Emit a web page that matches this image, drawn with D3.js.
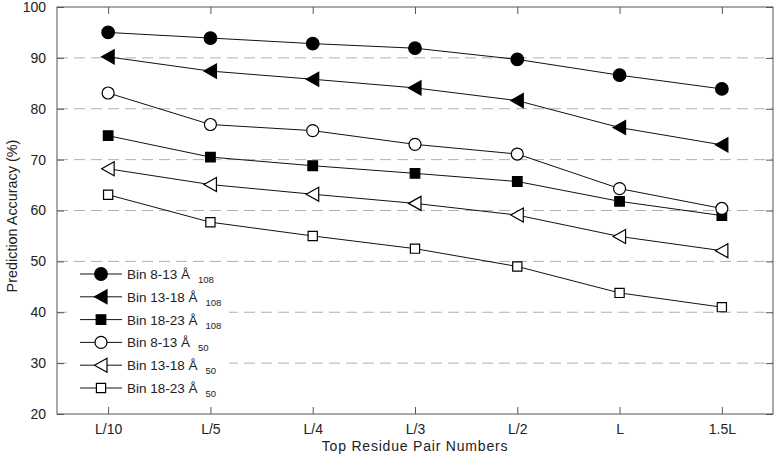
<!DOCTYPE html>
<html>
<head>
<meta charset="utf-8">
<script src="https://cdn.jsdelivr.net/npm/d3@7"></script>
<style>
  body { margin: 0; background: #fff; }
  text { font-family: "Liberation Sans", Arial, sans-serif; fill: #222; }
</style>
</head>
<body>
<div id="chart"></div>
<script>
const categories = ['L/10', 'L/5', 'L/4', 'L/3', 'L/2', 'L', '1.5L']
const yTicks = [20, 30, 40, 50, 60, 70, 80, 90, 100]
const gridValues = [30, 40, 50, 60, 70, 80, 90]

const seriesNames = ['Bin 8-13 Å', 'Bin 13-18 Å', 'Bin 18-23 Å', 'Bin 8-13 Å', 'Bin 13-18 Å', 'Bin 18-23 Å']
const seriesSubs = ['108', '108', '108', '50', '50', '50']
const seriesMarkers = ['circle', 'triangle', 'square', 'circle', 'triangle', 'square']
const seriesFilled = [true, true, true, false, false, false]

const bin8_108 = [95.0, 93.9, 92.8, 91.9, 89.7, 86.6, 83.9]
const bin13_108 = [90.2, 87.4, 85.8, 84.1, 81.6, 76.3, 72.9]
const bin18_108 = [74.7, 70.5, 68.8, 67.3, 65.7, 61.8, 59.0]
const bin8_50 = [83.1, 76.9, 75.7, 73.0, 71.1, 64.3, 60.4]
const bin13_50 = [68.2, 65.1, 63.2, 61.4, 59.1, 54.9, 52.1]
const bin18_50 = [63.1, 57.7, 55.0, 52.5, 49.0, 43.8, 41.0]
const seriesValues = [bin8_108, bin13_108, bin18_108, bin8_50, bin13_50, bin18_50]

const W = 777, H = 464
const margin = { left: 57, right: 4, top: 7, bottom: 50 }

const svg = d3.select('#chart').append('svg').attr('width', W).attr('height', H)

const x = d3.scalePoint().domain(categories).range([margin.left, W - margin.right]).padding(0.5)
const y = d3.scaleLinear().domain([20, 100]).range([H - margin.bottom, margin.top])

// markers drawn as custom paths
function markerPath(type, filled) {
  if (type === 'circle') {
    const r = filled ? 6.3 : 6
    return `M${r},0A${r},${r} 0 1,1 ${-r},0A${r},${r} 0 1,1 ${r},0Z`
  }
  if (type === 'square') {
    const s = filled ? 4.8 : 4.6
    return `M${-s},${-s}H${s}V${s}H${-s}Z`
  }
  // left-pointing triangle
  return 'M-6.5,0L6,-7L6,7Z'
}

// dashed grid
svg.append('g').selectAll('line').data(gridValues).enter().append('line')
  .attr('x1', margin.left).attr('x2', W - margin.right)
  .attr('y1', (d) => y(d)).attr('y2', (d) => y(d))
  .attr('stroke', '#b0b0b0').attr('stroke-width', 1).attr('stroke-dasharray', '11,6')

// legend background hides grid
svg.append('rect').attr('x', 67).attr('y', 262).attr('width', 162).attr('height', 138).attr('fill', '#fff')

// axes
svg.append('g').attr('transform', `translate(0,${H - margin.bottom})`)
  .call(d3.axisBottom(x).tickSize(-7).tickPadding(10).tickSizeOuter(0))
svg.append('g').attr('transform', `translate(0,${margin.top})`)
  .call(d3.axisTop(x).tickSize(-7).tickFormat('').tickSizeOuter(0))
svg.append('g').attr('transform', `translate(${margin.left},0)`)
  .call(d3.axisLeft(y).tickValues(yTicks).tickSize(-7).tickPadding(11).tickSizeOuter(0))
svg.append('g').attr('transform', `translate(${W - margin.right},0)`)
  .call(d3.axisRight(y).tickValues(yTicks).tickSize(-7).tickFormat('').tickSizeOuter(0))

svg.selectAll('.domain').remove()
svg.selectAll('.tick line').attr('stroke', '#555')
svg.selectAll('.tick text').attr('font-size', 14).attr('fill', '#222')

svg.append('rect')
  .attr('x', margin.left).attr('y', margin.top)
  .attr('width', W - margin.right - margin.left).attr('height', H - margin.bottom - margin.top)
  .attr('fill', 'none').attr('stroke', '#555').attr('stroke-width', 1)

// series
const line = d3.line().x((d, i) => x(categories[i])).y((d) => y(d))
seriesValues.forEach((vals, s) => {
  const g = svg.append('g')
  g.append('path').attr('d', line(vals)).attr('fill', 'none').attr('stroke', '#111').attr('stroke-width', 1)
  g.selectAll('path.m').data(vals).enter().append('path')
    .attr('class', 'm')
    .attr('transform', (d, i) => `translate(${x(categories[i])},${y(d)})`)
    .attr('d', markerPath(seriesMarkers[s], seriesFilled[s]))
    .attr('fill', seriesFilled[s] ? '#000' : '#fff')
    .attr('stroke', '#000').attr('stroke-width', 1.2)
})

// legend
const legend = svg.append('g')
seriesNames.forEach((name, s) => {
  const ly = 274 + s * 22.8
  const row = legend.append('g').attr('transform', `translate(0,${ly})`)
  row.append('line').attr('x1', 80).attr('x2', 122).attr('y1', 0).attr('y2', 0).attr('stroke', '#111')
  row.append('path').attr('transform', 'translate(101,0)')
    .attr('d', markerPath(seriesMarkers[s], seriesFilled[s]))
    .attr('fill', seriesFilled[s] ? '#000' : '#fff')
    .attr('stroke', '#000').attr('stroke-width', 1.2)
  const t = row.append('text').attr('x', 127).attr('y', 5).attr('font-size', 13.5).text(name)
  const tw = t.node().getComputedTextLength()
  row.append('text').attr('x', 127 + tw + 8).attr('y', 9).attr('font-size', 9.5).text(seriesSubs[s])
})

// axis titles
svg.append('text').attr('x', (margin.left + W - margin.right) / 2).attr('y', 451)
  .attr('text-anchor', 'middle').attr('font-size', 14).attr('letter-spacing', 0.8)
  .text('Top Residue Pair Numbers')
svg.append('text').attr('transform', 'translate(17,216) rotate(-90)')
  .attr('text-anchor', 'middle').attr('font-size', 14.4).text('Prediction Accuracy (%)')
</script>
</body>
</html>
